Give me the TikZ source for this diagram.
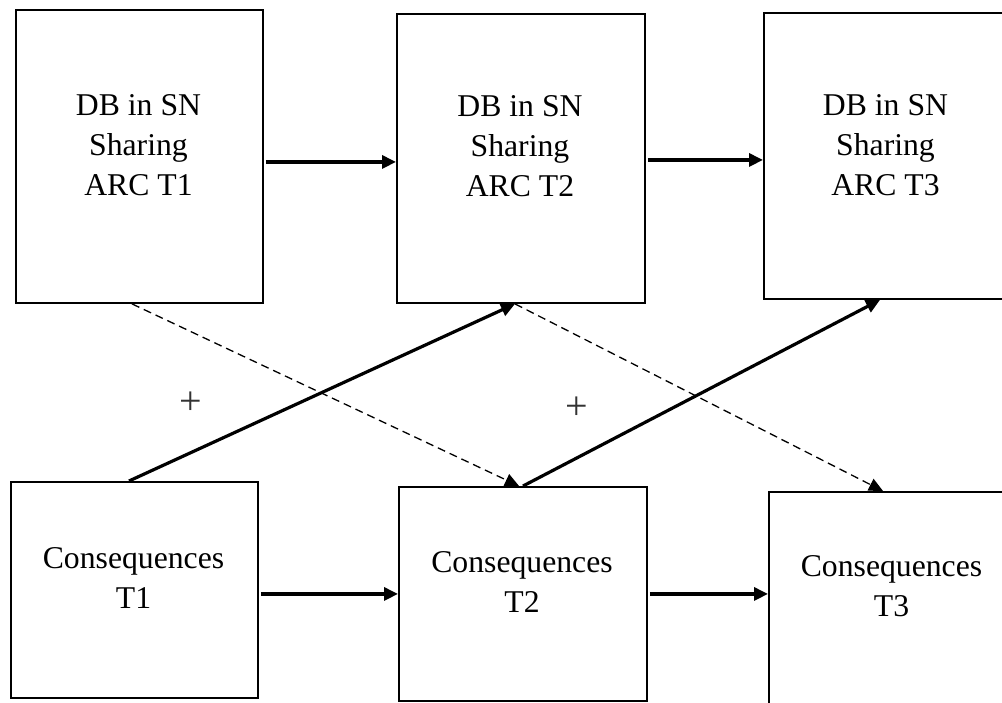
\documentclass[tikz,border=0pt]{standalone}
\usepackage{fontspec}
\setmainfont{Liberation Serif}
\usetikzlibrary{arrows.meta,calc}

\begin{document}
\begin{tikzpicture}[x=1pt,y=-1pt,
  box/.style={draw,line width=1.9pt,rectangle,inner sep=0pt,anchor=north west},
  label/.style={align=center,inner sep=0pt,font=\fontsize{31.7}{40}\selectfont},
  arr/.style={line width=3.2pt,-{Triangle[length=14pt,width=13pt]}},
  darr/.style={line width=1.3pt,dash pattern=on 8pt off 5pt,-{Triangle[length=14pt,width=13pt]}},
  sign/.style={inner sep=0pt,text=black!80,font=\fontsize{40}{44}\selectfont}]
  \useasboundingbox (0,0) rectangle (1002,702);
  \clip (0,0) rectangle (1002,702);
  \fill[white] (0,0) rectangle (1002,702);

  % upper row: sharing boxes
  \node[box,minimum width=247pt,minimum height=293pt] (a1) at (15,9) {};
  \node[box,minimum width=248pt,minimum height=289pt] (a2) at (396,13) {};
  \node[box,minimum width=247pt,minimum height=286pt] (a3) at (763,12) {};
  \node[label] (a1t) at (138.5,145) {DB in SN\\Sharing\\ARC T1};
  \node[label] (a2t) at (520,146) {DB in SN\\Sharing\\ARC T2};
  \node[label] (a3t) at (885.5,145) {DB in SN\\Sharing\\ARC T3};

  % lower row: consequence boxes
  \node[box,minimum width=247pt,minimum height=216pt] (c1) at (10,481) {};
  \node[box,minimum width=248pt,minimum height=214pt] (c2) at (398,486) {};
  \node[box,minimum width=247pt,minimum height=240pt] (c3) at (768,491) {};
  \node[label] (c1t) at (133.5,578) {Consequences\\T1};
  \node[label] (c2t) at (522,582) {Consequences\\T2};
  \node[label] (c3t) at (891.5,586) {Consequences\\T3};

  % attachment points on the box edges
  \coordinate (a1b) at ($(a1.south west)+(117,0)$);
  \coordinate (a2b) at ($(a2.south west)+(119,0)$);
  \coordinate (a3b) at ($(a3.south west)+(117,0)$);
  \coordinate (c1n) at ($(c1.north west)+(119,0)$);
  \coordinate (c2n) at ($(c2.north west)+(125,0)$);
  \coordinate (c2d) at ($(c2.north west)+(121,0)$);
  \coordinate (c3d) at ($(c3.north west)+(115,0)$);

  % horizontal links
  \draw[arr] ([xshift=2pt,yshift=-5.5pt]a1.east) -- ([yshift=-3.5pt]a2.west);
  \draw[arr] ([xshift=2pt,yshift=-1.5pt]a2.east) -- ([yshift=-4pt]a3.west);
  \draw[arr] ([xshift=2pt,yshift=-4pt]c1.east) -- (c2.west);
  \draw[arr] ([xshift=2pt]c2.east) -- ([yshift=18pt]c3.west);

  % cross links
  \draw[darr] (a1b) -- (c2d);
  \draw[darr] (a2b) -- (c3d);
  \draw[arr] (c1n) -- (a2b);
  \draw[arr] (c2n) -- (a3b);

  \node[sign] (p1) at (191,403) {+};
  \node[sign] (p2) at (577,408) {+};
\end{tikzpicture}
\end{document}
